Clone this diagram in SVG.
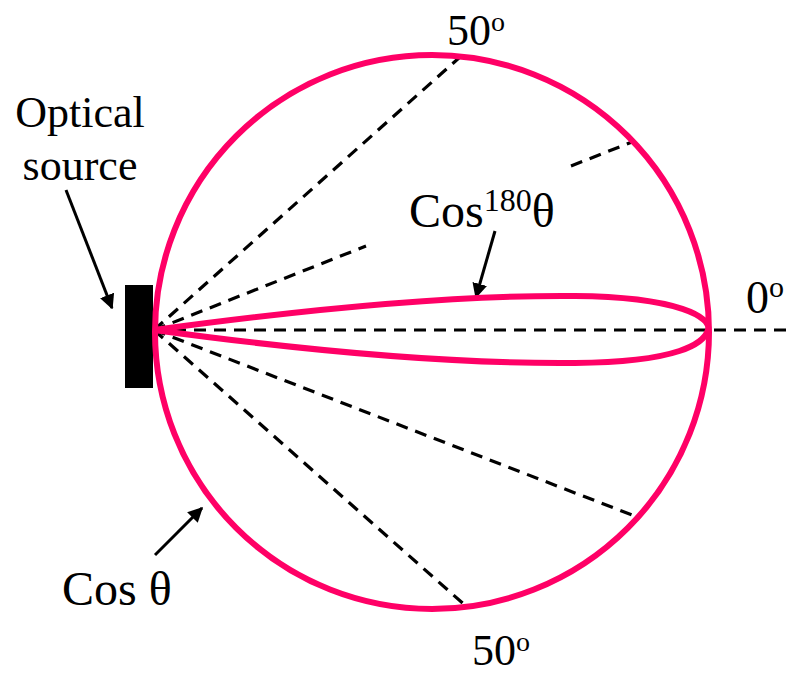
<svg xmlns="http://www.w3.org/2000/svg" width="789" height="676" viewBox="0 0 789 676">
<defs>
<style>
.pink{fill:none;stroke:#ff0066;stroke-width:6}
.dash{fill:none;stroke:#000;stroke-width:3.2;stroke-dasharray:12 8}
.arr{fill:none;stroke:#000;stroke-width:3;marker-end:url(#ah)}
text{font-family:"Liberation Serif","Times New Roman",serif;fill:#000}
</style>
<marker id="ah" viewBox="0 0 10 10" refX="9" refY="5" markerWidth="5" markerHeight="5" markerUnits="strokeWidth" orient="auto">
<path d="M0,0 L10,5 L0,10 Z" fill="#000"/>
</marker>
</defs>
<rect width="789" height="676" fill="#fff"/>
<g id="connectors">
<line class="dash" x1="154" y1="330" x2="789" y2="330"/>
<line class="dash" x1="154" y1="330" x2="460" y2="57"/>
<line class="dash" x1="154" y1="330" x2="366" y2="246"/>
<line class="dash" x1="571" y1="166" x2="632" y2="142"/>
<line class="dash" x1="154" y1="330" x2="632" y2="515"/>
<line class="dash" x1="154" y1="330" x2="467" y2="607"/>
<line class="arr" x1="66" y1="190" x2="112" y2="308"/>
<line class="arr" x1="495" y1="231" x2="476" y2="297"/>
<line class="arr" x1="155" y1="555" x2="202" y2="508"/>
</g>
<g id="source">
<rect x="125" y="285" width="28" height="103" fill="#000"/>
</g>
<g id="cos-circle">
<circle class="pink" cx="432" cy="332" r="277"/>
</g>
<g id="cos180-lobe">
<path class="pink" d="M154,330 C330,306 470,295 575,296 C680,297 712,318 708,330 C704,343 680,362 575,363 C470,364 330,354 154,330 Z"/>
</g>
<g id="labels">
<text x="80" y="127" font-size="44" text-anchor="middle">Optical</text>
<text x="80" y="180" font-size="44" text-anchor="middle">source</text>
<text x="447" y="45" font-size="44">50<tspan font-size="28" dy="-14">o</tspan></text>
<text x="472" y="665" font-size="44">50<tspan font-size="28" dy="-14">o</tspan></text>
<text x="746" y="313" font-size="46">0<tspan font-size="30" dy="-16">o</tspan></text>
<text x="409" y="227" font-size="48">Cos<tspan font-size="32" dy="-16">180</tspan><tspan dy="16">θ</tspan></text>
<text x="62" y="605" font-size="48">Cos θ</text>
</g>
</svg>
